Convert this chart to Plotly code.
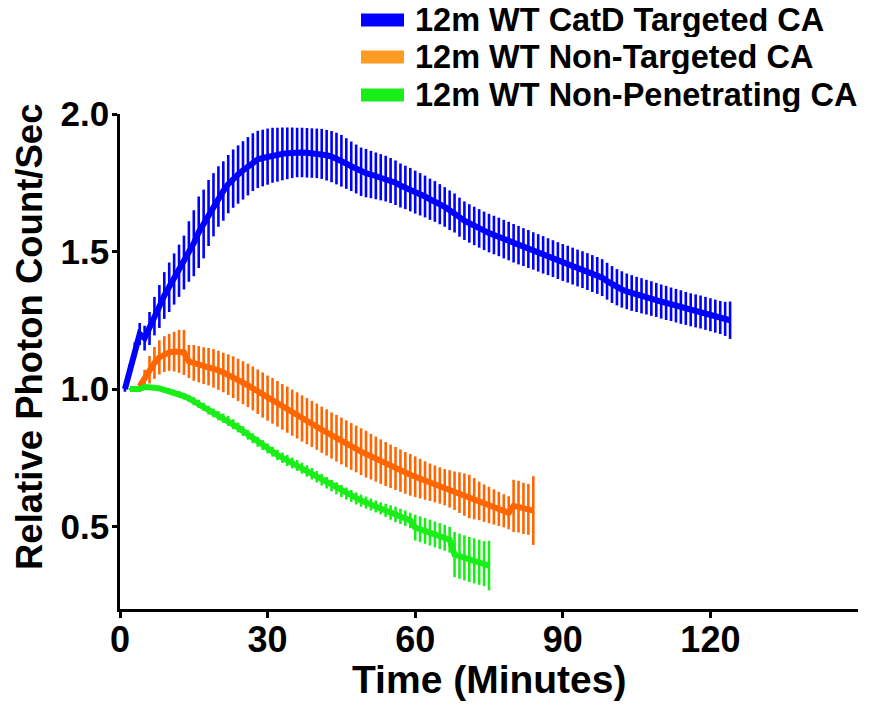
import plotly.graph_objects as go

# ---------------- data ----------------
blue_t = list(range(1, 125))
blue_y = [1.00, 1.07, 1.14, 1.20, 1.185, 1.22, 1.265, 1.30, 1.34, 1.37,
          1.40, 1.43, 1.46, 1.50, 1.53, 1.57, 1.60, 1.64, 1.67, 1.70,
          1.72, 1.745, 1.765, 1.78, 1.795, 1.81, 1.825, 1.835, 1.84, 1.845,
          1.85, 1.852, 1.855, 1.857, 1.859, 1.86, 1.86, 1.859, 1.858, 1.857,
          1.855, 1.85, 1.845, 1.838, 1.83, 1.82, 1.81, 1.80, 1.79, 1.785,
          1.78, 1.775, 1.77, 1.765, 1.758, 1.75, 1.74, 1.733, 1.725, 1.716,
          1.708, 1.70, 1.69, 1.682, 1.672, 1.662, 1.65, 1.64, 1.625, 1.612,
          1.602, 1.593, 1.584, 1.575, 1.567, 1.56, 1.553, 1.545, 1.538, 1.53,
          1.523, 1.516, 1.509, 1.502, 1.495, 1.488, 1.481, 1.474, 1.467, 1.46,
          1.454, 1.447, 1.44, 1.434, 1.427, 1.42, 1.413, 1.405, 1.392, 1.38,
          1.37, 1.362, 1.355, 1.349, 1.344, 1.339, 1.334, 1.329, 1.324, 1.318,
          1.313, 1.308, 1.303, 1.298, 1.293, 1.288, 1.284, 1.28, 1.275, 1.27,
          1.265, 1.26, 1.255, 1.25]
blue_err = [0.01, 0.02, 0.03, 0.04, 0.045, 0.06, 0.07, 0.078, 0.085, 0.09,
            0.093, 0.095, 0.098, 0.11, 0.12, 0.13, 0.125, 0.12, 0.115, 0.11,
            0.108, 0.106, 0.106, 0.106, 0.106, 0.106, 0.105, 0.104, 0.103, 0.102,
            0.1, 0.098, 0.096, 0.094, 0.092, 0.09, 0.09, 0.09, 0.09, 0.09,
            0.091, 0.092, 0.093, 0.094, 0.094, 0.092, 0.09, 0.089, 0.088, 0.088,
            0.086, 0.085, 0.084, 0.083, 0.082, 0.081, 0.08, 0.079, 0.079, 0.078,
            0.077, 0.076, 0.075, 0.074, 0.073, 0.072, 0.072, 0.071, 0.071, 0.07,
            0.07, 0.07, 0.07, 0.07, 0.07, 0.07, 0.07, 0.07, 0.07, 0.07,
            0.07, 0.069, 0.069, 0.068, 0.068, 0.068, 0.067, 0.067, 0.067, 0.067,
            0.067, 0.067, 0.067, 0.067, 0.067, 0.067, 0.067, 0.067, 0.067, 0.067,
            0.066, 0.066, 0.065, 0.065, 0.064, 0.064, 0.063, 0.063, 0.062, 0.062,
            0.062, 0.061, 0.061, 0.061, 0.06, 0.06, 0.06, 0.06, 0.06, 0.06,
            0.06, 0.06, 0.062, 0.068]

orange_t = list(range(4, 85))
orange_y = [1.01, 1.04, 1.07, 1.095, 1.115, 1.127, 1.133, 1.136, 1.137, 1.133,
            1.10, 1.095, 1.09, 1.085, 1.081, 1.075, 1.068, 1.06, 1.052, 1.043,
            1.033, 1.023, 1.013, 1.002, 0.99, 0.978, 0.967, 0.957, 0.946, 0.935,
            0.925, 0.914, 0.904, 0.893, 0.883, 0.873, 0.863, 0.852, 0.842, 0.831,
            0.821, 0.811, 0.801, 0.791, 0.782, 0.772, 0.763, 0.754, 0.745, 0.736,
            0.727, 0.719, 0.711, 0.703, 0.695, 0.688, 0.681, 0.674, 0.667, 0.661,
            0.655, 0.649, 0.643, 0.637, 0.63, 0.623, 0.616, 0.609, 0.601, 0.593,
            0.585, 0.578, 0.571, 0.564, 0.557, 0.55, 0.575, 0.572, 0.566, 0.562,
            0.558]
orange_err = [0.01, 0.03, 0.05, 0.058, 0.062, 0.065, 0.067, 0.072, 0.078, 0.082,
              0.06, 0.065, 0.066, 0.067, 0.068, 0.07, 0.071, 0.072, 0.074, 0.076,
              0.077, 0.078, 0.079, 0.08, 0.081, 0.082, 0.082, 0.083, 0.083, 0.083,
              0.084, 0.084, 0.084, 0.084, 0.084, 0.084, 0.084, 0.084, 0.084, 0.084,
              0.085, 0.085, 0.085, 0.085, 0.085, 0.085, 0.085, 0.083, 0.082, 0.081,
              0.08, 0.079, 0.078, 0.077, 0.076, 0.076, 0.074, 0.072, 0.07, 0.068,
              0.067, 0.066, 0.066, 0.068, 0.07, 0.074, 0.077, 0.079, 0.075, 0.07,
              0.068, 0.066, 0.064, 0.062, 0.06, 0.06, 0.095, 0.094, 0.093, 0.092,
              0.125]

green_t = list(range(2, 76))
green_y = [1.0, 1.0, 1.0, 1.007, 1.008, 1.005, 1.002, 0.997, 0.992, 0.987,
           0.981, 0.974, 0.966, 0.956, 0.946, 0.935, 0.923, 0.913, 0.903, 0.894,
           0.884, 0.872, 0.86, 0.847, 0.834, 0.821, 0.808, 0.796, 0.784, 0.772,
           0.76, 0.75, 0.74, 0.731, 0.722, 0.712, 0.702, 0.692, 0.681, 0.67,
           0.659, 0.649, 0.639, 0.629, 0.62, 0.611, 0.602, 0.594, 0.587, 0.58,
           0.573, 0.566, 0.559, 0.551, 0.544, 0.537, 0.53, 0.522, 0.496, 0.49,
           0.484, 0.478, 0.471, 0.465, 0.459, 0.452, 0.398, 0.392, 0.386, 0.38,
           0.375, 0.37, 0.365, 0.358]
green_err = [0.004, 0.004, 0.005, 0.006, 0.007, 0.008, 0.009, 0.01, 0.01, 0.011,
             0.012, 0.012, 0.013, 0.014, 0.015, 0.015, 0.016, 0.016, 0.017, 0.017,
             0.018, 0.018, 0.018, 0.018, 0.018, 0.018, 0.018, 0.018, 0.018, 0.018,
             0.019, 0.019, 0.02, 0.02, 0.02, 0.02, 0.021, 0.021, 0.021, 0.021,
             0.021, 0.021, 0.022, 0.022, 0.022, 0.022, 0.022, 0.022, 0.022, 0.022,
             0.022, 0.022, 0.024, 0.026, 0.028, 0.028, 0.028, 0.028, 0.047, 0.047,
             0.047, 0.047, 0.047, 0.047, 0.047, 0.047, 0.082, 0.082, 0.082, 0.082,
             0.082, 0.082, 0.082, 0.09]

series_names = ["12m WT CatD Targeted CA", "12m WT Non-Targeted CA",
                "12m WT Non-Penetrating CA"]
x_ticks = [0, 30, 60, 90, 120]
y_ticks = [0.5, 1.0, 1.5, 2.0]
y_tick_text = ["0.5", "1.0", "1.5", "2.0"]

# ---------------- styling ----------------
FONT = "Arial, 'Liberation Sans', sans-serif"
line_colors = ["#0000FF", "#FF6600", "#19EE19"]
legend_colors = ["#0000FF", "#FF9A22", "#19EE19"]

# The page body has an 8px margin, so work in page pixels minus that offset.
OFF = 8
W, H = 874 - OFF, 706 - OFF
plot_l, plot_r, plot_t, plot_b = 120 - OFF, 858 - OFF, 114 - OFF, 609 - OFF
pw, ph = plot_r - plot_l, plot_b - plot_t


def px_x(x):
    return (x - OFF - plot_l) / pw


def px_y(y):
    return (plot_b - (y - OFF)) / ph


fig = go.Figure()
data = [(blue_t, blue_y, blue_err), (orange_t, orange_y, orange_err),
        (green_t, green_y, green_err)]
for i in [1, 2, 0]:
    t, y, e = data[i]
    fig.add_trace(go.Scatter(
        x=t, y=y, mode="lines", name=series_names[i], showlegend=False,
        line=dict(color=line_colors[i], width=6),
        error_y=dict(type="data", array=e, visible=True, color=line_colors[i],
                     thickness=2.6, width=0),
        hoverinfo="skip"))

# legend drawn in the top margin (swatch + label per row)
legend_rows_px = [20, 57, 95]
for i in range(3):
    yp = px_y(legend_rows_px[i])
    fig.add_shape(type="line", xref="paper", yref="paper",
                  x0=px_x(361), x1=px_x(404), y0=yp, y1=yp,
                  line=dict(color=legend_colors[i], width=13))
    fig.add_annotation(
        text=series_names[i], xref="paper", yref="paper",
        x=px_x(413), y=yp, xanchor="left", yanchor="middle",
        height=34, valign="middle",
        showarrow=False,
        font=dict(family=FONT, size=32.5, color="black", weight="bold"))

fig.update_layout(
    width=W, height=H,
    margin=dict(l=plot_l, r=W - plot_r, t=plot_t, b=H - plot_b),
    paper_bgcolor="white", plot_bgcolor="white",
    font=dict(family=FONT, color="black"),
    showlegend=False,
)

fig.update_xaxes(
    range=[0, 150], tickvals=x_ticks, ticktext=[str(v) for v in x_ticks],
    showline=True, linecolor="black", linewidth=2.5, mirror=False,
    ticks="outside", ticklen=6, tickwidth=2.5, tickcolor="black",
    ticklabelstandoff=-9,
    showgrid=False, zeroline=False, automargin=False,
    tickfont=dict(family=FONT, size=36, color="black", weight="bold"))
fig.update_yaxes(
    range=[0.2, 2.0], tickvals=y_ticks, ticktext=y_tick_text,
    showline=True, linecolor="black", linewidth=2.5, mirror=False,
    ticks="outside", ticklen=5, tickwidth=2.5, tickcolor="black",
    ticklabelstandoff=-4,
    showgrid=False, zeroline=False, automargin=False,
    tickfont=dict(family=FONT, size=35, color="black", weight="bold"))

fig.add_annotation(
    text="Time (Minutes)", xref="paper", yref="paper",
    x=px_x(489), y=px_y(679), xanchor="center", yanchor="middle",
    showarrow=False,
    font=dict(family=FONT, size=39, color="black", weight="bold"))
fig.add_annotation(
    text="Relative Photon Count/Sec", xref="paper", yref="paper",
    x=px_x(29), y=px_y(337), xanchor="center",
    yanchor="middle", textangle=-90, showarrow=False,
    font=dict(family=FONT, size=36.5, color="black", weight="bold"))

fig.write_html("out.html")
